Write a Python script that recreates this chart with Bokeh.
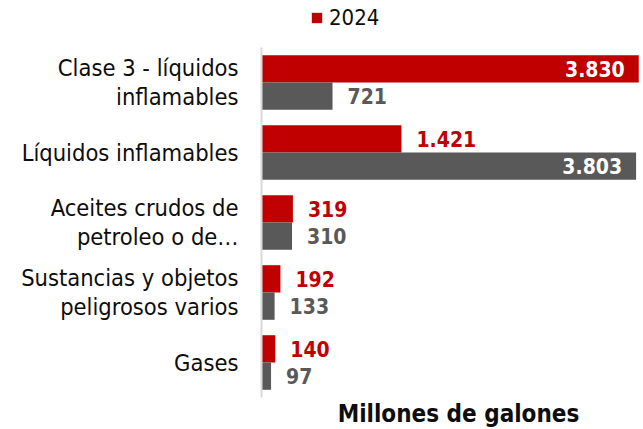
from bokeh.plotting import figure
from bokeh.models import ColumnDataSource, Range1d, Legend, LegendItem, Label
from bokeh.core.properties import value
from bokeh.embed import file_html
from bokeh.resources import INLINE

# ---- data ----
categories = [
    "Clase 3 - líquidos\ninflamables",
    "Líquidos inflamables",
    "Aceites crudos de\npetroleo o de…",
    "Sustancias y objetos\npeligrosos varios",
    "Gases",
]
values_2024 = [3830, 1421, 319, 192, 140]
values_2023 = [721, 3803, 310, 133, 97]
series_names = ["2024", "2023"]
axis_max = 4000
axis_title = "Millones de galones"

# ---- styling constants ----
RED = "#C00000"
GRAY = "#595959"
FONT = "DejaVu Sans Condensed"
W, H = 643, 429
ZERO_PX = 261          # pixel position of value 0 within the frame
AXIS_PX = 394          # pixel length of 0..axis_max
FIRST_CENTER_PX = 82   # pixel (from top) of first category centre
PITCH_PX = 70          # pixels between category centres
BAR_H = 0.39

n = len(categories)
pos = list(range(n))

x_start = -ZERO_PX / AXIS_PX * axis_max
x_end = (W - ZERO_PX) / AXIS_PX * axis_max
y_top = -FIRST_CENTER_PX / PITCH_PX
y_bottom = (H - FIRST_CENTER_PX) / PITCH_PX

p = figure(width=W, height=H, output_backend="svg", toolbar_location=None,
           x_range=Range1d(x_start, x_end), y_range=Range1d(y_bottom, y_top),
           x_axis_type=None, y_axis_type=None, min_border=0)
p.outline_line_color = None
p.grid.visible = False
p.background_fill_color = "white"
p.border_fill_color = "white"


def fmt(v):
    return f"{v:,}".replace(",", ".")


inside_threshold = 0.8 * axis_max

src = ColumnDataSource(dict(
    y24=[i - BAR_H / 2 for i in pos],
    y23=[i + BAR_H / 2 for i in pos],
    v24=values_2024,
    v23=values_2023,
))

r24 = p.hbar(y="y24", left=0, right="v24", height=BAR_H, source=src,
             fill_color=RED, line_color=None)
r23 = p.hbar(y="y23", left=0, right="v23", height=BAR_H, source=src,
             fill_color=GRAY, line_color=None)

# axis line
p.segment(x0=[0], y0=[-0.5], x1=[0], y1=[n - 0.5], line_color="#d9d9d9", line_width=2)


# value labels
def label_source(vals, ys, color):
    ins = [v > inside_threshold for v in vals]
    return ColumnDataSource(dict(
        x=vals, y=ys, t=[fmt(v) for v in vals],
        off=[-14 if i else 15 for i in ins],
        align=["right" if i else "left" for i in ins],
        col=["white" if i else color for i in ins],
    ))


for vals, key, color in [(values_2024, "y24", RED), (values_2023, "y23", GRAY)]:
    ls = label_source(vals, src.data[key], color)
    p.text(x="x", y="y", text="t", x_offset="off", text_align="align",
           text_baseline="middle", text_color="col", source=ls,
           text_font=value(FONT), text_font_style="bold", text_font_size="21px")

# category labels
p.text(x=[0] * n, y=pos, text=categories, x_offset=-23, text_align="right",
       text_baseline="middle", text_color="#0d0d0d", text_font=value(FONT),
       text_font_size="23.5px", text_line_height=1.05)

# axis title
p.add_layout(Label(x=axis_max / 2, y=16, x_units="data", y_units="screen",
                   text=axis_title, text_align="center", text_baseline="alphabetic",
                   text_font=FONT, text_font_style="bold", text_font_size="24px",
                   text_color="#0d0d0d"))

legend = Legend(items=[LegendItem(label=series_names[0], renderers=[r24])],
                location=(310, 399), orientation="horizontal",
                glyph_width=13, glyph_height=13, label_standoff=6,
                label_text_font=FONT, label_text_font_size="22px",
                label_text_color="#0d0d0d",
                padding=0, margin=0, spacing=0,
                border_line_alpha=0, background_fill_alpha=0)
p.add_layout(legend)

open("out.html", "w").write(file_html(p, INLINE))
